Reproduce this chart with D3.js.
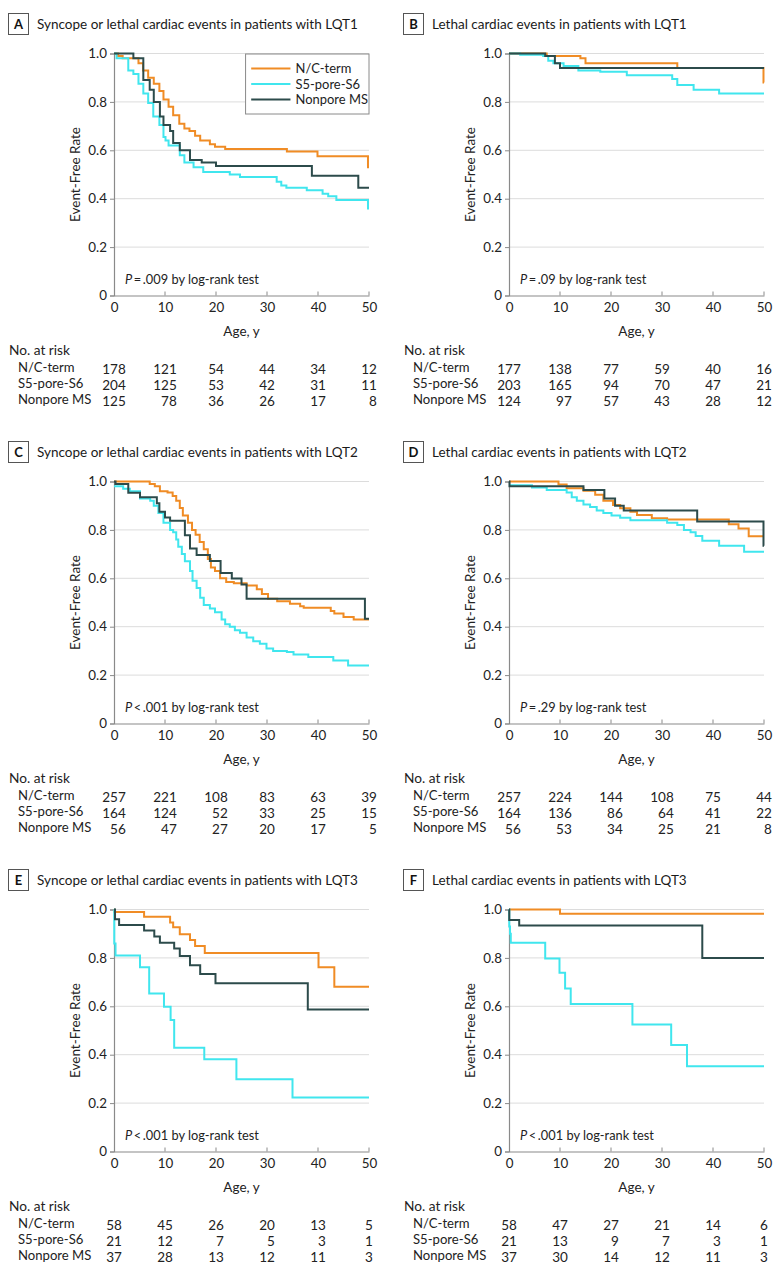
<!DOCTYPE html>
<html>
<head>
<meta charset="utf-8">
<script src="https://cdn.jsdelivr.net/npm/d3@7"></script>
<style>
  html, body { margin: 0; padding: 0; background: #fff; }
  svg { display: block; font-family: Lato, "Noto Sans", sans-serif; }
</style>
</head>
<body>
<svg id="chart" width="780" height="1281"></svg>
<script>
// ---------------- DATA ----------------
const groups = ["N/C-term", "S5-pore-S6", "Nonpore MS"];
const xTicks = [0, 10, 20, 30, 40, 50];
const yTicks = [0, 0.2, 0.4, 0.6, 0.8, 1.0];
const yTickLabels = ["0", "0.2", "0.4", "0.6", "0.8", "1.0"];
const panelLetters = ["A", "B", "C", "D", "E", "F"];
const panelTitles = [
  "Syncope or lethal cardiac events in patients with LQT1",
  "Lethal cardiac events in patients with LQT1",
  "Syncope or lethal cardiac events in patients with LQT2",
  "Lethal cardiac events in patients with LQT2",
  "Syncope or lethal cardiac events in patients with LQT3",
  "Lethal cardiac events in patients with LQT3"
];
const pTexts = ["\u2009=\u2009.009", "\u2009=\u2009.09", "\u2009<\u2009.001", "\u2009=\u2009.29", "\u2009<\u2009.001", "\u2009<\u2009.001"];

// Kaplan-Meier step points [age, event-free rate]
const curveA_NC = [[0,1],[0.8,0.99],[1.7,0.98],[4.8,0.96],[5.7,0.93],[6.7,0.90],[7.8,0.875],[8.9,0.845],[9.7,0.81],[10.7,0.78],[11.6,0.745],[12.8,0.71],[13.8,0.69],[14.8,0.68],[15.9,0.66],[16.9,0.64],[18.8,0.625],[19.8,0.615],[21.8,0.605],[33.9,0.595],[39.9,0.575],[49.8,0.53]];
const curveA_S5 = [[0,1],[0.5,0.98],[2.8,0.93],[3.8,0.915],[4.8,0.875],[5.75,0.835],[6.7,0.795],[7.7,0.74],[8.9,0.705],[9.7,0.655],[10.1,0.64],[10.7,0.62],[12.9,0.58],[13.8,0.55],[15.6,0.53],[17.5,0.51],[22.7,0.50],[24.7,0.49],[31.9,0.47],[32.8,0.455],[33.8,0.445],[37.8,0.435],[40.9,0.42],[42,0.41],[43.6,0.395],[49.8,0.36]];
const curveA_NP = [[0,1],[3.8,0.98],[5.75,0.89],[7,0.85],[7.8,0.80],[9,0.74],[9.7,0.705],[11,0.68],[11.6,0.63],[12.9,0.60],[14.9,0.56],[17.2,0.55],[20,0.535],[38.8,0.495],[47.9,0.445]];

const curveB_NC = [[0,1],[7.4,0.99],[14,0.98],[15,0.96],[33,0.94],[49.9,0.88]];
const curveB_S5 = [[0,1],[2.2,0.995],[6.7,0.99],[7.7,0.97],[8.7,0.96],[10.7,0.948],[13.6,0.93],[17.9,0.925],[23.1,0.91],[32,0.895],[33,0.87],[36.2,0.85],[41.2,0.835]];
const curveB_NP = [[0,1],[7.1,0.99],[9,0.96],[10,0.94]];

const curveC_NC = [[0,1],[7,0.99],[8,0.98],[9,0.96],[10.5,0.955],[11.5,0.94],[12.2,0.92],[12.9,0.89],[13.5,0.86],[14.5,0.83],[15.3,0.80],[16,0.78],[16.8,0.75],[17.6,0.72],[18.4,0.68],[19,0.645],[19.8,0.63],[20.8,0.60],[22,0.585],[23.5,0.58],[26,0.57],[28,0.555],[29,0.535],[30.2,0.515],[32,0.505],[34.5,0.495],[36.5,0.485],[37.2,0.478],[42.5,0.465],[43.2,0.455],[45,0.44],[47,0.43]];
const curveC_S5 = [[0,0.98],[1.8,0.97],[3.1,0.96],[5.1,0.93],[7.1,0.92],[7.8,0.90],[8.7,0.87],[9.7,0.83],[11,0.80],[11.6,0.79],[12.2,0.76],[12.6,0.73],[13.3,0.70],[13.9,0.67],[14.9,0.63],[15.4,0.59],[16.2,0.56],[16.9,0.52],[17.6,0.49],[18.8,0.475],[19.8,0.46],[21.1,0.43],[21.8,0.41],[22.7,0.40],[23.7,0.385],[24.7,0.375],[26,0.355],[27.3,0.34],[28.6,0.33],[29.9,0.31],[31.2,0.30],[33.9,0.295],[35.2,0.285],[38.1,0.275],[43,0.26],[45.9,0.24]];
const curveC_NP = [[0,1],[0.3,0.99],[2.8,0.954],[5.1,0.935],[8.4,0.91],[8.9,0.875],[10,0.851],[11,0.838],[13.9,0.778],[14.9,0.723],[16.2,0.696],[18.8,0.671],[20.9,0.622],[23.1,0.599],[25,0.574],[26,0.516],[49.2,0.433]];

const curveD_NC = [[0,1],[9.7,0.988],[11.3,0.972],[14.6,0.962],[16.9,0.945],[18.5,0.92],[20.4,0.903],[21.8,0.889],[23.8,0.875],[25.1,0.862],[28,0.848],[31,0.843],[43.1,0.823],[45,0.806],[47,0.774]];
const curveD_S5 = [[0,0.985],[4.5,0.975],[7.4,0.965],[11.3,0.955],[12.3,0.935],[13.3,0.92],[14.6,0.905],[15.9,0.895],[17.2,0.88],[18.5,0.87],[20.1,0.86],[21.8,0.85],[23.8,0.84],[31,0.83],[33,0.82],[34.3,0.80],[35.6,0.79],[36.6,0.775],[37.9,0.755],[41.2,0.735],[46.1,0.71]];
const curveD_NP = [[0,1],[0.1,0.98],[14.6,0.965],[18.7,0.93],[20.8,0.90],[22.5,0.88],[36.9,0.835],[49.9,0.735]];

const curveE_NC = [[0,1],[0.1,0.99],[5.9,0.97],[11,0.946],[11.6,0.927],[12.9,0.898],[14.9,0.874],[15.9,0.849],[17.8,0.82],[40.1,0.761],[43.2,0.681]];
const curveE_S5 = [[0,1],[0.05,0.86],[0.3,0.81],[5.1,0.761],[6.9,0.653],[9.8,0.598],[11.1,0.543],[11.8,0.429],[17.7,0.381],[24,0.299],[35,0.223]];
const curveE_NP = [[0,1],[0.2,0.96],[1,0.936],[5.9,0.913],[7.9,0.888],[9,0.863],[11.8,0.839],[12.9,0.808],[14.9,0.77],[16.9,0.733],[19.9,0.695],[38,0.587]];

const curveF_NC = [[0,1],[10,0.982]];
const curveF_S5 = [[0,1],[0.05,0.93],[0.2,0.90],[0.35,0.863],[7.1,0.798],[9.9,0.739],[11,0.674],[12.1,0.609],[24.2,0.525],[31.8,0.44],[34.9,0.352]];
const curveF_NP = [[0,1],[0.05,0.957],[2,0.934],[37.9,0.8]];

// Numbers at risk at ages 0,10,20,30,40,50
const riskA_NC = [178,121,54,44,34,12];
const riskA_S5 = [204,125,53,42,31,11];
const riskA_NP = [125,78,36,26,17,8];
const riskB_NC = [177,138,77,59,40,16];
const riskB_S5 = [203,165,94,70,47,21];
const riskB_NP = [124,97,57,43,28,12];
const riskC_NC = [257,221,108,83,63,39];
const riskC_S5 = [164,124,52,33,25,15];
const riskC_NP = [56,47,27,20,17,5];
const riskD_NC = [257,224,144,108,75,44];
const riskD_S5 = [164,136,86,64,41,22];
const riskD_NP = [56,53,34,25,21,8];
const riskE_NC = [58,45,26,20,13,5];
const riskE_S5 = [21,12,7,5,3,1];
const riskE_NP = [37,28,13,12,11,3];
const riskF_NC = [58,47,27,21,14,6];
const riskF_S5 = [21,13,9,7,3,1];
const riskF_NP = [37,30,14,12,11,3];

// ---------------- STYLE / LAYOUT ----------------
const colors = ["#f08c25", "#40e6ee", "#2c4b4b"];
const drawOrder = [0, 1, 2];

const panels = [
  { curves: [curveA_NC, curveA_S5, curveA_NP], risk: [riskA_NC, riskA_S5, riskA_NP], legend: true },
  { curves: [curveB_NC, curveB_S5, curveB_NP], risk: [riskB_NC, riskB_S5, riskB_NP] },
  { curves: [curveC_NC, curveC_S5, curveC_NP], risk: [riskC_NC, riskC_S5, riskC_NP] },
  { curves: [curveD_NC, curveD_S5, curveD_NP], risk: [riskD_NC, riskD_S5, riskD_NP] },
  { curves: [curveE_NC, curveE_S5, curveE_NP], risk: [riskE_NC, riskE_S5, riskE_NP] },
  { curves: [curveF_NC, curveF_S5, curveF_NP], risk: [riskF_NC, riskF_S5, riskF_NP] }
];

const svg = d3.select("#chart");

// choose font sizes so that sample strings match the widths measured on the reference
function fit(str, target, italicFirst) {
  const t = svg.append("text").attr("font-size", 20).text(str);
  const w = t.node().getComputedTextLength();
  t.remove();
  return 20 * target / w;
}
const FS_TITLE = fit(panelTitles[0], 321);
const FS_TICK = fit("20", 15.5);
const FS_AXT = fit("Event-Free Rate", 95);
const FS_ROW = fit("Nonpore MS", 73.5);
const FS_HEAD = fit("No. at risk", 61);
const FS_NUM = fit("204", 23.5);
const FS_LEG = fit("S5-pore-S6", 64.5);
const FS_P = fit("P" + pTexts[0] + " by log-rank test", 134.5);

panels.forEach((p, i) => {
  const col = i % 2, row = Math.floor(i / 2);
  const ox = col === 0 ? 0 : 395;
  const oy = row * 428;
  const x0 = 114 + ox, x1 = 369 + ox;
  const yTop = 53.5 + oy, yBot = 295.5 + oy;
  const x = d3.scaleLinear().domain([0, 50]).range([x0, x1]);
  const y = d3.scaleLinear().domain([0, 1]).range([yBot, yTop]);
  const g = svg.append("g");

  // Title with letter box
  const tY = 24 + oy;
  const bx = (col === 0 ? 8 : 403);
  g.append("rect").attr("x", bx + 0.5).attr("y", tY - 10.5).attr("width", 20).attr("height", 21)
    .attr("fill", "#fff").attr("stroke", "#555").attr("stroke-width", 1);
  g.append("text").attr("x", bx + 10.5).attr("y", tY).attr("dy", "0.36em")
    .attr("text-anchor", "middle").attr("font-weight", "bold").attr("font-size", 13).attr("fill", "#111")
    .text(panelLetters[i]);
  g.append("text").attr("x", bx + 29).attr("y", tY).attr("dy", "0.36em")
    .attr("font-size", FS_TITLE).attr("fill", "#1a1a1a").text(panelTitles[i]);

  // Gridlines
  g.append("g").selectAll("line").data(yTicks.filter(d => d > 0)).join("line")
    .attr("x1", x0).attr("x2", x1).attr("y1", d => y(d)).attr("y2", d => y(d))
    .attr("stroke", "#dcdcdc").attr("stroke-width", 1);

  // Y axis
  const ya = d3.axisLeft(y).tickValues(yTicks).tickFormat((d, k) => yTickLabels[k]).tickSize(4).tickPadding(3);
  const yg = g.append("g").attr("transform", `translate(${x0},0)`).call(ya);
  yg.select(".domain").attr("stroke", "#8a8a8a").attr("stroke-width", 1.2);
  yg.selectAll(".tick line").attr("stroke", "#8a8a8a");
  yg.selectAll("text").attr("font-size", FS_TICK).attr("fill", "#222").attr("font-family", "Lato, sans-serif");

  // X axis
  const xa = d3.axisBottom(x).tickValues(xTicks).tickSize(0).tickPadding(7);
  const xg = g.append("g").attr("transform", `translate(0,${yBot})`).call(xa);
  xg.select(".domain").attr("stroke", "#8a8a8a").attr("stroke-width", 1.2);
  xg.selectAll("text").attr("font-size", FS_TICK).attr("fill", "#222").attr("font-family", "Lato, sans-serif");
  g.append("g").selectAll("line").data(xTicks.slice(1)).join("line")
    .attr("x1", d => x(d)).attr("x2", d => x(d)).attr("y1", yBot).attr("y2", yBot - 4)
    .attr("stroke", "#8a8a8a");

  // axis titles
  g.append("text").attr("transform", `translate(${x0 - 39},${(yTop + yBot) / 2}) rotate(-90)`)
    .attr("text-anchor", "middle").attr("dy", "0.36em").attr("font-size", FS_AXT).attr("fill", "#222")
    .text("Event-Free Rate");
  g.append("text").attr("x", (x0 + x1) / 2).attr("y", yBot + 36).attr("dy", "0.36em")
    .attr("text-anchor", "middle").attr("font-size", FS_AXT).attr("fill", "#222").text("Age, y");

  // P value
  const pt = g.append("text").attr("x", x0 + 11).attr("y", yBot - 16.5).attr("dy", "0.36em")
    .attr("font-size", FS_P).attr("fill", "#222");
  pt.append("tspan").attr("font-style", "italic").text("P");
  pt.append("tspan").text(pTexts[i] + " by log-rank test");

  // Curves
  const line = d3.line().x(d => x(d[0])).y(d => y(d[1])).curve(d3.curveStepAfter);
  drawOrder.forEach(k => {
    const pts = p.curves[k].slice();
    const last = pts[pts.length - 1];
    if (last[0] < 50) pts.push([50, last[1]]);
    g.append("path").attr("d", line(pts)).attr("fill", "none")
      .attr("stroke", colors[k]).attr("stroke-width", 2);
  });

  // Legend
  if (p.legend) {
    const lg = g.append("g");
    lg.append("rect").attr("x", x(25.7) + 0.5).attr("y", yTop + 0.5).attr("width", x1 - x(25.7) - 0.5).attr("height", 60)
      .attr("fill", "#fff").attr("stroke", "#8a8a8a").attr("stroke-width", 1);
    groups.forEach((name, k) => {
      const ly = yTop + 15 + k * 15.5;
      lg.append("line").attr("x1", x(26.9)).attr("x2", x(34.6)).attr("y1", ly).attr("y2", ly)
        .attr("stroke", colors[k]).attr("stroke-width", 2);
      lg.append("text").attr("x", x(35.6)).attr("y", ly).attr("dy", "0.36em")
        .attr("font-size", FS_LEG).attr("fill", "#222").text(name);
    });
  }

  // Numbers at risk table
  const tb = yBot + 55;
  const lx = col === 0 ? 9 : 404;
  g.append("text").attr("x", lx).attr("y", tb).attr("dy", "0.36em").attr("font-size", FS_HEAD).attr("fill", "#222").text("No. at risk");
  groups.forEach((name, k) => {
    g.append("text").attr("x", lx + 9).attr("y", tb + 17.5 + k * 15.8).attr("dy", "0.32em")
      .attr("font-size", FS_ROW).attr("fill", "#222").text(name);
  });
  xTicks.forEach((t, c) => {
    const colG = g.append("g");
    const texts = groups.map((_, k) => colG.append("text").attr("y", tb + 19.5 + k * 15.8).attr("dy", "0.32em")
      .attr("font-size", FS_NUM).attr("fill", "#222").attr("text-anchor", "end").text(p.risk[k][c]));
    const maxW = d3.max(texts, t2 => t2.node().getComputedTextLength());
    texts.forEach(t2 => t2.attr("x", x(t) + maxW / 2));
  });
});
</script>
</body>
</html>
